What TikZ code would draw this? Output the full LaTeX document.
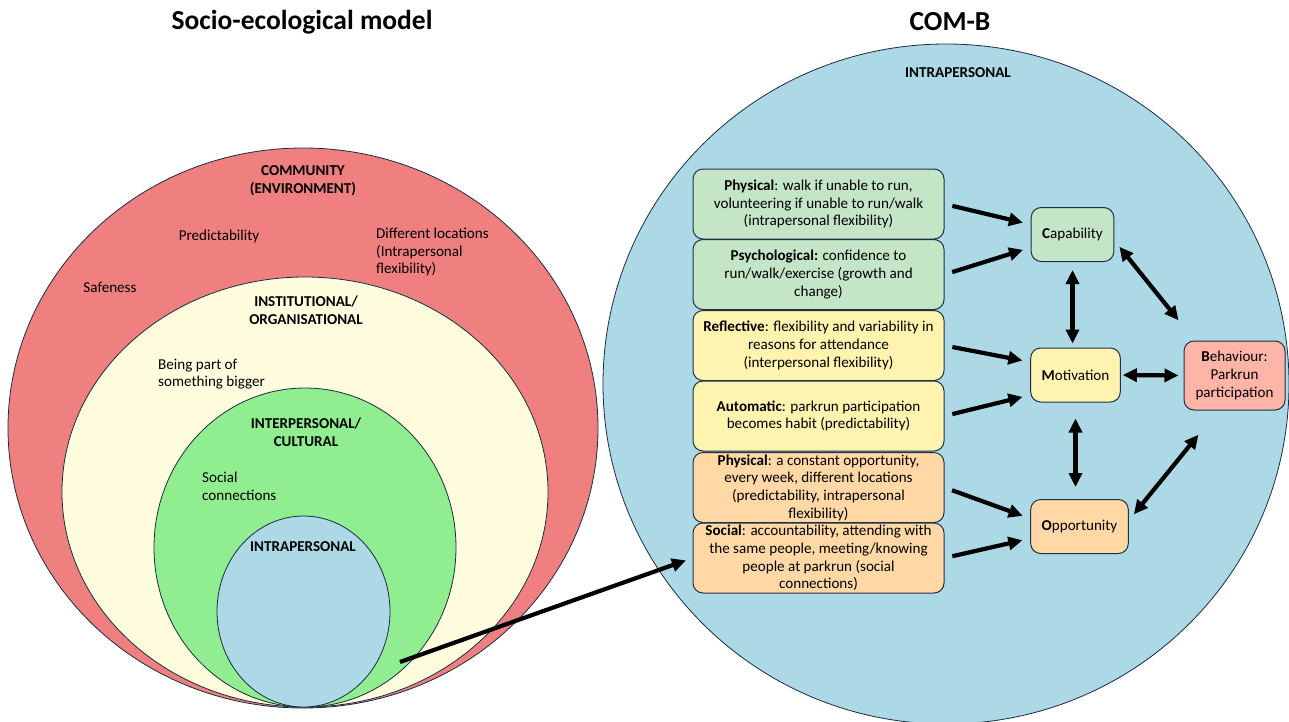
\documentclass[tikz,border=0pt]{standalone}
\usepackage{fontspec}
\setmainfont{Carlito}
\usepackage{tikz}
\usetikzlibrary{arrows.meta, positioning, calc, shapes.geometric}
\definecolor{ringred}{RGB}{240,128,128}
\definecolor{ringcream}{RGB}{255,253,222}
\definecolor{ringgreen}{RGB}{144,238,144}
\definecolor{ringblue}{RGB}{173,216,230}
\definecolor{ringline}{RGB}{25,45,65}
\definecolor{boxline}{RGB}{30,48,66}
\definecolor{capgreen}{RGB}{197,229,199}
\definecolor{motyellow}{RGB}{255,243,176}
\definecolor{opporange}{RGB}{255,216,166}
\definecolor{behpink}{RGB}{255,180,168}
\newcommand{\lblsize}{\fontsize{15.1}{17.7}\selectfont}
\newcommand{\ttlsize}{\fontsize{27.5}{32}\selectfont\bfseries}

\begin{document}
\begin{tikzpicture}[x=1pt, y=-1pt,
    ring/.style={ellipse, draw=ringline, line width=0.8pt, inner sep=0pt},
    lbl/.style={font=\lblsize, align=center, inner sep=0pt},
    head/.style={font=\lblsize\bfseries, align=center, inner sep=0pt},
    box/.style={rectangle, rounded corners=10pt, draw=boxline, line width=1pt,
                minimum width=251pt, minimum height=70pt, inner sep=1pt,
                font=\lblsize, align=center},
    comb/.style={rectangle, rounded corners=10pt, draw=boxline, line width=1pt,
                 minimum height=54pt, inner xsep=11pt, font=\lblsize, align=center},
    arr/.style={line width=4.2pt, -{Triangle[length=14pt,width=13pt]},
                shorten >=8pt, shorten <=8pt},
    darr/.style={line width=4.2pt,
                 {Triangle[length=14pt,width=13pt]}-{Triangle[length=14pt,width=13pt]}}
]
\useasboundingbox (0,0) rectangle (1289,721);

% COM-B
\node[ring, fill=ringblue, minimum width=686pt, minimum height=680pt] (combring) at (946,384) {};
\node[font=\ttlsize] (combttl) at (950,22) {COM-B};
\node[head] (combin) at (958,73) {INTRAPERSONAL};

\node[box, fill=capgreen] (b1) at (818.5,204)
  {\textbf{Physical}: walk if unable to run,\\volunteering if unable to run/walk\\(intrapersonal flexibility)};
\node[box, fill=capgreen] (b2) at (818.5,274.5)
  {\textbf{Psychological:} confidence to\\run/walk/exercise (growth and\\change)};
\node[box, fill=motyellow] (b3) at (818.5,345.5)
  {\textbf{Reflective}: flexibility and variability in\\reasons for attendance\\(interpersonal flexibility)};
\node[box, fill=motyellow] (b4) at (818.5,416)
  {\textbf{Automatic}: parkrun participation\\becomes habit (predictability)};
\node[box, fill=opporange] (b5) at (818.5,487.5)
  {\textbf{Physical}: a constant opportunity,\\every week, different locations\\(predictability, intrapersonal\\flexibility)};
\node[box, fill=opporange] (b6) at (818.5,558)
  {\textbf{Social}: accountability, attending with\\the same people, meeting/knowing\\people at parkrun (social\\connections)};

\node[comb, fill=capgreen] (cap) at (1072.5,234.5) {\textbf{C}apability};
\node[comb, fill=motyellow] (mot) at (1075.5,375) {\textbf{M}otivation};
\node[comb, fill=opporange] (opp) at (1079.5,526.5) {\textbf{O}pportunity};
\node[comb, fill=behpink, minimum height=69pt, minimum width=101pt, inner xsep=6pt] (beh) at (1234.5,375.5)
  {\textbf{B}ehaviour:\\Parkrun\\participation};

\foreach \src/\dst/\dy in {b1/cap/10, b2/cap/-13, b3/mot/13, b4/mot/-20, b5/opp/8, b6/opp/-12}
  \draw[arr] (\src.east) -- ([yshift=\dy pt]\dst.west);

\draw[darr, shorten <=8pt, shorten >=4pt] (cap.south) -- (cap.south |- mot.north);
\draw[darr, shorten <=16pt, shorten >=12pt] (mot.south) -- (mot.south |- opp.north);
\draw[darr, shorten <=8pt, shorten >=8pt] ([yshift=-6pt]cap.east) -- ([yshift=14pt]beh.north west);
\draw[darr, shorten <=2pt, shorten >=5pt] (mot.east) -- (beh.west);
\draw[darr, shorten <=8pt, shorten >=8pt] ([yshift=6pt]opp.east) -- ([xshift=20pt,yshift=-18pt]beh.south west);

% socio-ecological model
\node[font=\ttlsize] (sectl) at (302,22) {Socio-ecological model};
\node[ring, fill=ringred, minimum width=590pt, minimum height=560pt] (community) at (303,428) {};
\node[ring, fill=ringcream, minimum width=486pt, minimum height=430pt] (institution) at (305,492) {};
\node[ring, fill=ringgreen, minimum width=302pt, minimum height=319pt] (interpers) at (305,547.5) {};
\node[ring, fill=ringblue, minimum width=173pt, minimum height=191pt] (intrapers) at (303.5,611.5) {};

\node[head] (communitylbl) at (303,181) {COMMUNITY\\(ENVIRONMENT)};
\node[lbl] (predict) at (219,236) {Predictability};
\node[lbl, anchor=west, align=left] (locations) at (376,252) {Different locations\\(Intrapersonal\\flexibility)};
\node[lbl] (safe) at (110,287) {Safeness};
\node[head] (institutionlbl) at (306,310) {INSTITUTIONAL/\\ORGANISATIONAL};
\node[lbl, anchor=west, align=left] (bigger) at (158,374) {Being part of\\something bigger};
\node[head] (interperslbl) at (306,432) {INTERPERSONAL/\\CULTURAL};
\node[lbl, anchor=west, align=left] (social) at (202,486) {Social\\connections};
\node[head] (intraperslbl) at (303,547) {INTRAPERSONAL};

\coordinate (src) at (400,662);
\draw[arr, shorten <=0pt, shorten >=7pt] (src) -- (b6.west);
\end{tikzpicture}
\end{document}
